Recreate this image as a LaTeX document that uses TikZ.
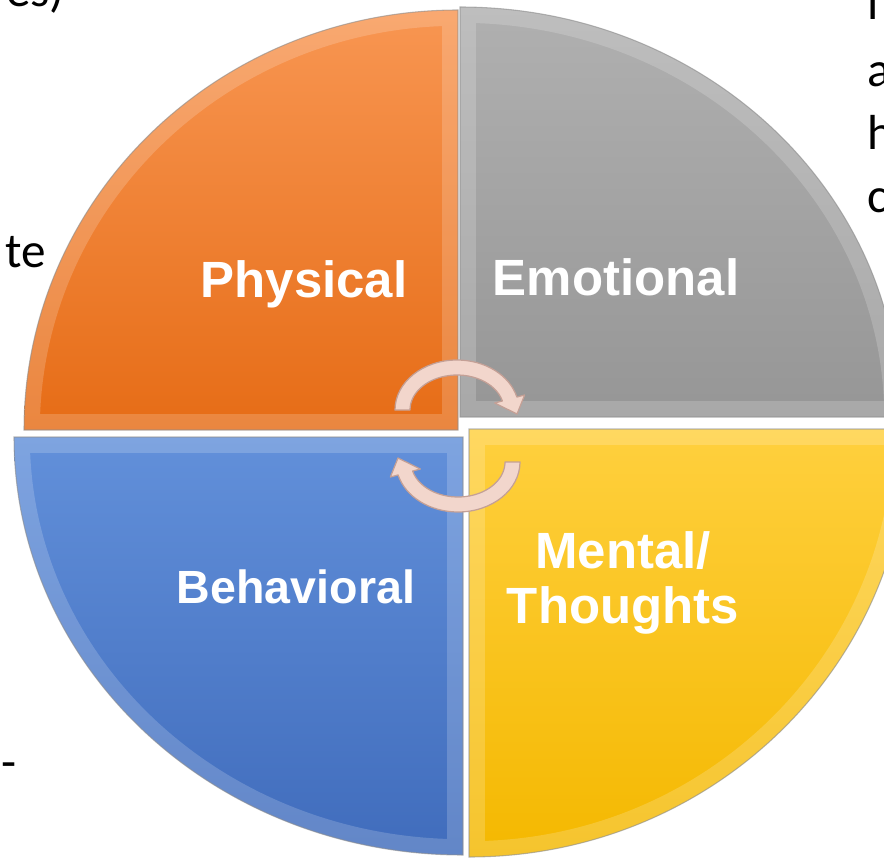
\documentclass[tikz,border=0pt]{standalone}
\usepackage{fontspec}
\newfontfamily\labelfamily{Liberation Sans}
\newfontfamily\sidefamily{Carlito}

\definecolor{physicaltop}{RGB}{248,150,82}
\definecolor{physicalbottom}{RGB}{230,108,22}
\definecolor{emotionaltop}{RGB}{176,176,176}
\definecolor{emotionalbottom}{RGB}{150,150,150}
\definecolor{behavioraltop}{RGB}{98,144,218}
\definecolor{behavioralbottom}{RGB}{64,108,188}
\definecolor{mentaltop}{RGB}{255,208,62}
\definecolor{mentalbottom}{RGB}{244,184,0}
\definecolor{arrowfill}{RGB}{242,214,204}
\definecolor{arrowline}{RGB}{196,160,150}

% quadrant outlines
\newcommand{\physicalpath}{(458,429) -- (458,849) arc[start angle=90, end angle=180, x radius=434, y radius=420] -- cycle}
\newcommand{\emotionalpath}{(460,442) -- (460,852) arc[start angle=90, end angle=0, x radius=440, y radius=410] -- cycle}
\newcommand{\behavioralpath}{(463,422) -- (14,422) arc[start angle=180, end angle=270, x radius=449, y radius=418] -- cycle}
\newcommand{\mentalpath}{(469,430) -- (469,2) arc[start angle=270, end angle=360, x radius=440, y radius=428] -- cycle}

\begin{document}
\begin{tikzpicture}[
    x=0.02cm, y=0.02cm,
  sliceedge/.style={draw=black!45, draw opacity=.6, line width=.6pt},
  bevel/.style={draw=white, draw opacity=.18, line width=18pt},
  quadlabel/.style={text=white, inner sep=0pt, anchor=base, font=\labelfamily\bfseries\fontsize{29}{31}\selectfont},
  sidetext/.style={inner sep=0pt, font=\sidefamily\fontsize{28}{34}\selectfont},
  cyclearrow/.style={fill=arrowfill, draw=arrowline, line width=.7pt, line join=round}
]
\useasboundingbox (0,0) rectangle (884,859);
\clip (0,0) rectangle (884,859);

% Quadrants
\shade[top color=physicaltop, bottom color=physicalbottom] \physicalpath;
\begin{scope}
  \clip \physicalpath;
  \draw[bevel] \physicalpath;
\end{scope}
\draw[sliceedge] \physicalpath;

\shade[top color=emotionaltop, bottom color=emotionalbottom] \emotionalpath;
\begin{scope}
  \clip \emotionalpath;
  \draw[bevel] \emotionalpath;
\end{scope}
\draw[sliceedge] \emotionalpath;

\shade[top color=behavioraltop, bottom color=behavioralbottom] \behavioralpath;
\begin{scope}
  \clip \behavioralpath;
  \draw[bevel] \behavioralpath;
\end{scope}
\draw[sliceedge] \behavioralpath;

\shade[top color=mentaltop, bottom color=mentalbottom] \mentalpath;
\begin{scope}
  \clip \mentalpath;
  \draw[bevel] \mentalpath;
\end{scope}
\draw[sliceedge] \mentalpath;

% Labels
\node[quadlabel] (physical) at (304,561) {Physical};
\node[quadlabel] (emotional) at (616,563) {Emotional};
\node[quadlabel, font=\labelfamily\bfseries\fontsize{26.5}{31}\selectfont] (behavioral) at (296,256) {Behavioral};
\node[quadlabel] (mental) at (623,291) {Mental/};
\node[quadlabel] (thoughts) at (623,236) {Thoughts};

% Cycle arrows
\coordinate (upc) at (457,449);
\coordinate (uptip) at (517,445);
\filldraw[cyclearrow] ([shift={(180:62 and 50)}]upc)
  arc[start angle=180, end angle=15, x radius=62, y radius=50]
  -- ([shift={(15:70 and 58)}]upc) -- (uptip) -- ([shift={(15:39 and 27)}]upc)
  -- ([shift={(15:47 and 35)}]upc)
  arc[start angle=15, end angle=180, x radius=47, y radius=35] -- cycle;

\coordinate (lowc) at (458,397);
\coordinate (lowtip) at (398,401);
\filldraw[cyclearrow] ([shift={(0:62 and 50)}]lowc)
  arc[start angle=0, end angle=-165, x radius=62, y radius=50]
  -- ([shift={(-165:70 and 58)}]lowc) -- (lowtip) -- ([shift={(-165:39 and 27)}]lowc)
  -- ([shift={(-165:47 and 35)}]lowc)
  arc[start angle=-165, end angle=0, x radius=47, y radius=35] -- cycle;

% Cut-off side text
\node[sidetext, anchor=base east] (leftone) at (65,852) {es)};
\node[sidetext, anchor=base east] (lefttwo) at (46,591) {te};
\node[sidetext, anchor=base east] (leftthree) at (3,345) {.};
\node[sidetext, anchor=base east] (leftfour) at (17,81) {-};
\node[sidetext, anchor=base west] (rightone) at (867,839) {l};
\node[sidetext, anchor=base west] (righttwo) at (867,772) {a};
\node[sidetext, anchor=base west] (rightthree) at (867,709) {h};
\node[sidetext, anchor=base west] (rightfour) at (867,646) {c};

\end{tikzpicture}
\end{document}
